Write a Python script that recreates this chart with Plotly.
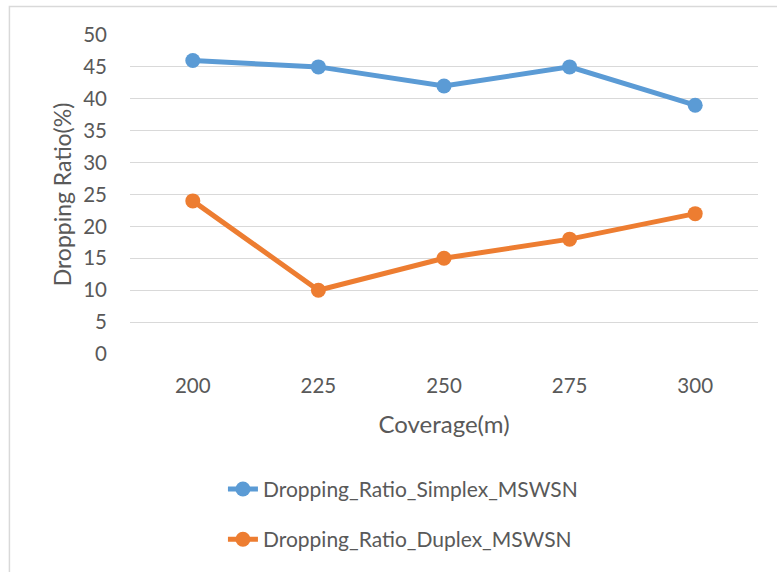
import plotly.graph_objects as go

# Coverage categories and dropping ratios (%) per scheme
coverage = ["200", "225", "250", "275", "300"]
simplex_ratio = [46, 45, 42, 45, 39]
duplex_ratio = [24, 10, 15, 18, 22]
y_ticks = [0, 5, 10, 15, 20, 25, 30, 35, 40, 45, 50]

BLUE = "#5B9BD5"
ORANGE = "#ED7D31"
TEXT = "#595959"
GRID = "#D9D9D9"
FONT = "Lato, Calibri, sans-serif"

fig = go.Figure()
fig.add_trace(go.Scatter(
    x=coverage, y=simplex_ratio, mode="lines+markers",
    name="Dropping_Ratio_Simplex_MSWSN", legendgroup="a",
    line=dict(color=BLUE, width=5), marker=dict(color=BLUE, size=15),
    cliponaxis=False,
))
fig.add_trace(go.Scatter(
    x=coverage, y=duplex_ratio, mode="lines+markers",
    name="Dropping_Ratio_Duplex_MSWSN", legendgroup="b",
    line=dict(color=ORANGE, width=5), marker=dict(color=ORANGE, size=15),
    cliponaxis=False,
))

fig.update_layout(
    width=777, height=572,
    margin=dict(l=130, r=19, t=35, b=218),
    paper_bgcolor="white", plot_bgcolor="white",
    font=dict(family=FONT, color=TEXT, size=20),
    xaxis=dict(
        type="category", range=[-0.5, 4.5], showgrid=False, showline=False,
        zeroline=False, ticks="", tickfont=dict(size=20.5, color=TEXT),
        ticklabelstandoff=17,
        title=dict(text="Coverage(m)", font=dict(size=24, color=TEXT), standoff=20),
    ),
    yaxis=dict(
        range=[0, 50], tickvals=y_ticks, showgrid=True, gridcolor=GRID, gridwidth=1.3,
        zeroline=False, showline=False, ticks="", tickfont=dict(size=20.5, color=TEXT),
        ticklabelstandoff=22,
        title=dict(text="Dropping Ratio(%)", font=dict(size=23, color=TEXT), standoff=5),
    ),
    showlegend=True,
    legend=dict(
        x=0.148, y=-0.36, xanchor="left", yanchor="top",
        traceorder="grouped", tracegroupgap=20,
        font=dict(size=21, color=TEXT), bgcolor="rgba(0,0,0,0)",
    ),
    shapes=[dict(
        type="rect", xref="paper", yref="paper",
        x0=-0.192, x1=2.0, y0=-2.0, y1=1.089,
        line=dict(color=GRID, width=1.5), layer="below",
    )],
)

fig.write_html("out.html")
